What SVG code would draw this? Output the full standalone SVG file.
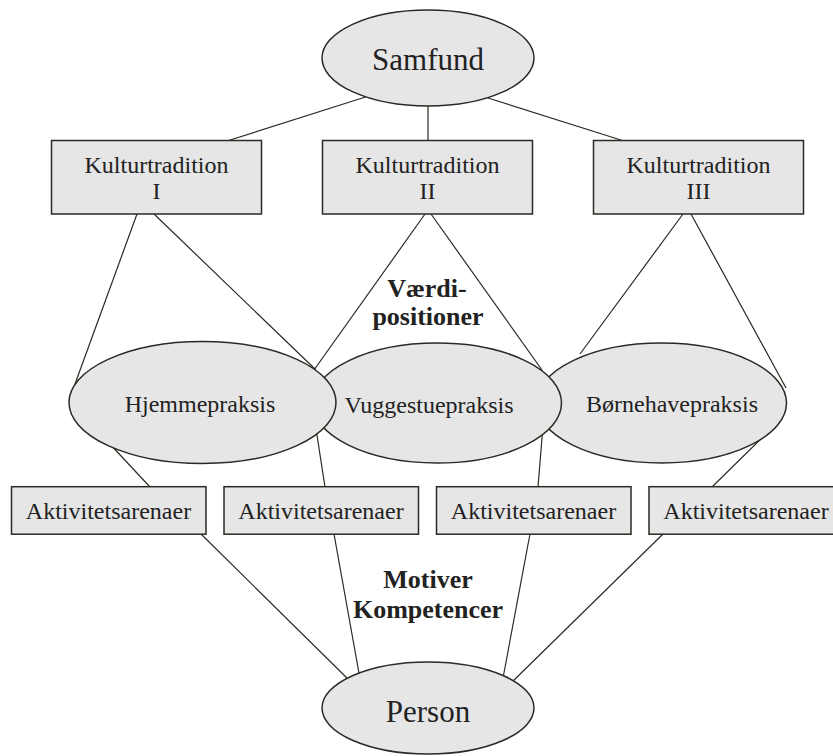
<svg xmlns="http://www.w3.org/2000/svg" width="833" height="756" viewBox="0 0 833 756">
<style>
  .shape { fill: #e6e6e6; stroke: #2a2a22; stroke-width: 1.5; }
  .line { stroke: #2a2a22; stroke-width: 1.2; fill: none; }
  text { font-family: "Liberation Serif", "Times New Roman", serif; fill: #222; text-anchor: middle; }
  .big { font-size: 31px; }
  .mid { font-size: 24px; }
  .bold { font-size: 26px; font-weight: bold; }
</style>
<rect width="833" height="756" fill="#ffffff"/>
<g id="connectors">
  <line class="line" x1="365.5" y1="97" x2="227" y2="141"/>
  <line class="line" x1="428" y1="105" x2="428" y2="141"/>
  <line class="line" x1="488" y1="98" x2="624" y2="141"/>
  <line class="line" x1="137" y1="214" x2="75" y2="384"/>
  <line class="line" x1="154" y1="214" x2="316" y2="370"/>
  <line class="line" x1="425" y1="214" x2="314" y2="370"/>
  <line class="line" x1="431" y1="214" x2="542" y2="370"/>
  <line class="line" x1="683" y1="214" x2="580" y2="354"/>
  <line class="line" x1="691" y1="214" x2="786" y2="388"/>
  <line class="line" x1="108" y1="442" x2="150" y2="487"/>
  <line class="line" x1="316.5" y1="432" x2="325" y2="487"/>
  <line class="line" x1="542.5" y1="432" x2="538" y2="487"/>
  <line class="line" x1="767" y1="433" x2="712" y2="487"/>
  <line class="line" x1="201" y1="534" x2="350" y2="681"/>
  <line class="line" x1="334" y1="534" x2="359.5" y2="676"/>
  <line class="line" x1="530" y1="534" x2="503" y2="678"/>
  <line class="line" x1="663" y1="534" x2="511" y2="683"/>
</g>
<g id="samfund">
  <ellipse class="shape" cx="428" cy="58" rx="106" ry="48"/>
  <text class="big" x="428" y="70">Samfund</text>
</g>
<g id="kultur1">
  <rect class="shape" x="51.5" y="140.5" width="210" height="73.5"/>
  <text class="mid" x="156.5" y="172.7">Kulturtradition</text>
  <text class="mid" x="156.5" y="199.3">I</text>
</g>
<g id="kultur2">
  <rect class="shape" x="322.5" y="140.5" width="210" height="73.5"/>
  <text class="mid" x="427.5" y="172.7">Kulturtradition</text>
  <text class="mid" x="427.5" y="199.3">II</text>
</g>
<g id="kultur3">
  <rect class="shape" x="593.5" y="140.5" width="210" height="73.5"/>
  <text class="mid" x="698.5" y="172.7">Kulturtradition</text>
  <text class="mid" x="698.5" y="199.3">III</text>
</g>
<g id="boernehave">
  <ellipse class="shape" cx="661.5" cy="403" rx="125" ry="60"/>
  <text class="mid" x="672" y="412">Børnehavepraksis</text>
</g>
<g id="vuggestue">
  <ellipse class="shape" cx="437" cy="403" rx="124.5" ry="60"/>
  <text class="mid" x="429" y="412.5">Vuggestuepraksis</text>
</g>
<g id="hjemme">
  <ellipse class="shape" cx="202.5" cy="402.5" rx="133.5" ry="61"/>
  <text class="mid" x="200" y="412">Hjemmepraksis</text>
</g>
<g id="vaerdi">
  <text class="bold" x="427" y="297.3">Værdi-</text>
  <text class="bold" x="428" y="325">positioner</text>
</g>
<g id="akt1">
  <rect class="shape" x="11.5" y="486.7" width="194.5" height="47.5"/>
  <text class="mid" x="108.5" y="519.3">Aktivitetsarenaer</text>
</g>
<g id="akt2">
  <rect class="shape" x="224" y="486.7" width="194.5" height="47.5"/>
  <text class="mid" x="321" y="519.3">Aktivitetsarenaer</text>
</g>
<g id="akt3">
  <rect class="shape" x="436.5" y="486.7" width="194.5" height="47.5"/>
  <text class="mid" x="533.5" y="519.3">Aktivitetsarenaer</text>
</g>
<g id="akt4">
  <rect class="shape" x="649" y="486.7" width="194.5" height="47.5"/>
  <text class="mid" x="746" y="519.3">Aktivitetsarenaer</text>
</g>
<g id="motiver">
  <text class="bold" x="428" y="588.3">Motiver</text>
  <text class="bold" x="428" y="618.3">Kompetencer</text>
</g>
<g id="person">
  <ellipse class="shape" cx="428" cy="708" rx="106" ry="46"/>
  <text class="big" x="428" y="721.7">Person</text>
</g>
</svg>
